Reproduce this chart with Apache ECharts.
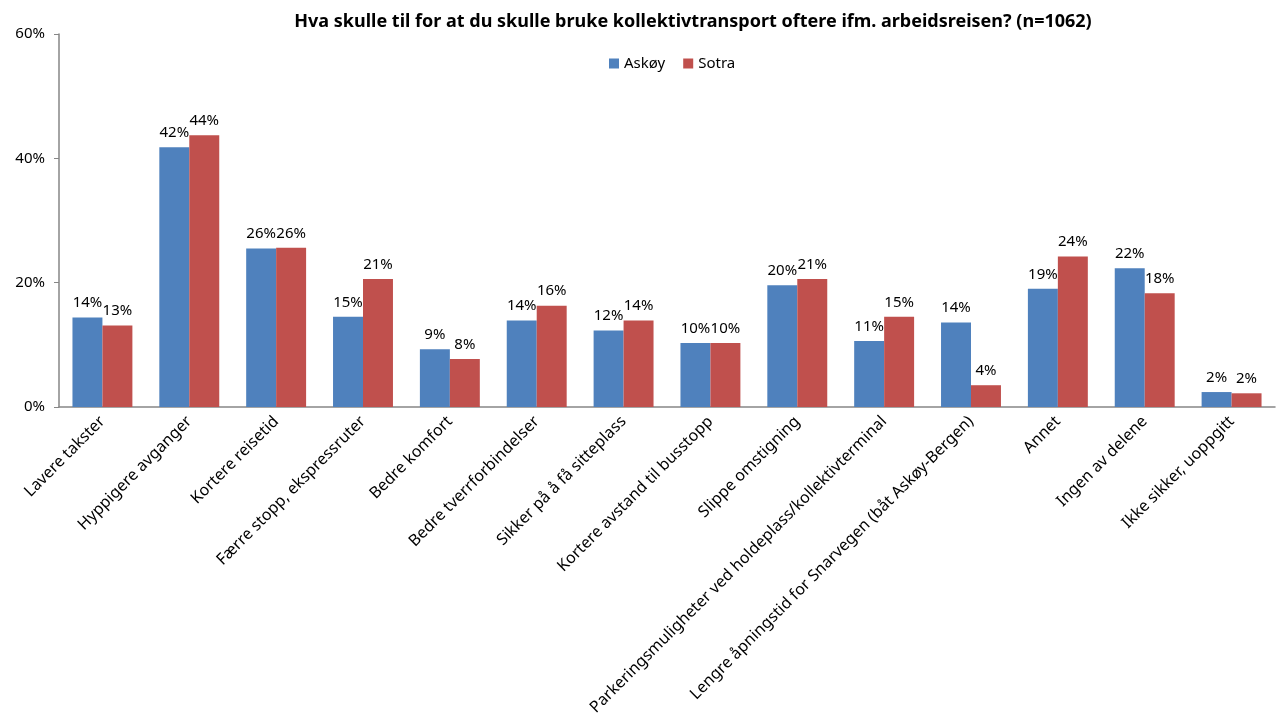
<!DOCTYPE html>
<html>
<head>
<meta charset="utf-8">
<script src="https://cdn.jsdelivr.net/npm/echarts@6/dist/echarts.min.js"></script>
<style>
  html, body { margin: 0; padding: 0; background: #fff; }
  #chart { width: 1287px; height: 718px; }
</style>
</head>
<body>
<div id="chart"></div>
<script>
  const categories = [
    'Lavere takster',
    'Hyppigere avganger',
    'Kortere reisetid',
    'Færre stopp, ekspressruter',
    'Bedre komfort',
    'Bedre tverrforbindelser',
    'Sikker på å få sitteplass',
    'Kortere avstand til busstopp',
    'Slippe omstigning',
    'Parkeringsmuligheter ved holdeplass/kollektivterminal',
    'Lengre åpningstid for Snarvegen (båt Askøy-Bergen)',
    'Annet',
    'Ingen av delene',
    'Ikke sikker, uoppgitt'
  ]
  const askoy = [14.4, 41.8, 25.5, 14.5, 9.3, 13.9, 12.3, 10.3, 19.6, 10.6, 13.6, 19.0, 22.3, 2.4]
  const sotra = [13.1, 43.7, 25.6, 20.6, 7.7, 16.3, 13.9, 10.3, 20.6, 14.5, 3.5, 24.2, 18.3, 2.2]
  const yTicks = [0, 20, 40, 60]

  const font = '"Noto Sans", sans-serif'
  let chart = echarts.init(document.getElementById('chart'))

  const barLabel = {
    show: true,
    position: 'top',
    distance: 7,
    formatter: p => Math.round(p.value) + '%',
    fontFamily: font,
    fontSize: 15,
    color: '#000'
  }

  chart.setOption({
    animation: false,
    title: {
      text: 'Hva skulle til for at du skulle bruke kollektivtransport oftere ifm. arbeidsreisen? (n=1062)',
      left: 688,
      textAlign: 'center',
      top: 8,
      textStyle: { fontFamily: font, fontSize: 18, fontWeight: 'bold', color: '#000' }
    },
    legend: {
      data: ['Askøy', 'Sotra'],
      left: 604,
      top: 51,
      itemWidth: 10,
      itemHeight: 10,
      itemGap: 18,
      icon: 'rect',
      textStyle: { fontFamily: font, fontSize: 15, color: '#000' }
    },
    grid: {
      left: 59,
      right: 12,
      top: 34,
      bottom: 310
    },
    xAxis: {
      type: 'category',
      data: categories,
      axisLine: { lineStyle: { color: '#868686', width: 1.5 } },
      axisTick: { show: false },
      axisLabel: {
        rotate: 45,
        interval: 0,
        margin: 12,
        fontFamily: font,
        fontSize: 16,
        color: '#000'
      }
    },
    yAxis: {
      type: 'value',
      min: yTicks[0],
      max: yTicks[yTicks.length - 1],
      interval: 20,
      splitLine: { show: false },
      axisLine: { show: true, lineStyle: { color: '#868686', width: 1.5 } },
      axisTick: { show: true, length: 5, lineStyle: { color: '#868686' } },
      axisLabel: {
        formatter: '{value}%',
        margin: 14,
        fontFamily: font,
        fontSize: 15,
        color: '#000'
      }
    },
    series: [
      {
        name: 'Askøy',
        type: 'bar',
        data: askoy,
        barGap: '0%',
        barCategoryGap: '31%',
        itemStyle: { color: '#4f81bd' },
        label: barLabel
      },
      {
        name: 'Sotra',
        type: 'bar',
        data: sotra,
        itemStyle: { color: '#c0504d' },
        label: barLabel
      }
    ]
  })
</script>
</body>
</html>
